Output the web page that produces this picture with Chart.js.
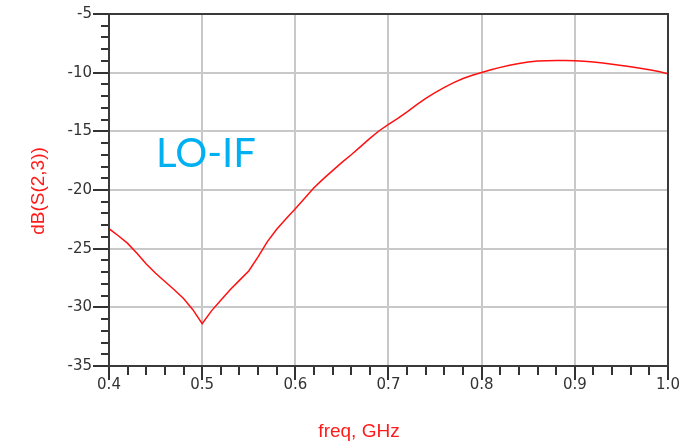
<!DOCTYPE html>
<html>
<head>
<meta charset="utf-8">
<script src="https://cdn.jsdelivr.net/npm/chart.js@4.4.1/dist/chart.umd.min.js"></script>
<style>
  body { margin: 0; background: #fff; }
  #wrap { width: 681px; height: 447px; position: relative; }
</style>
</head>
<body>
<div id="wrap"><canvas id="myChart"></canvas></div>
<script>
// freq in GHz, dB(S(2,3))
var freq = [0.40, 0.41, 0.42, 0.43, 0.44, 0.45, 0.46, 0.47, 0.48, 0.49,
            0.50, 0.51, 0.52, 0.53, 0.54, 0.55, 0.56, 0.57, 0.58, 0.59,
            0.60, 0.61, 0.62, 0.63, 0.64, 0.65, 0.66, 0.67, 0.68, 0.69,
            0.70, 0.71, 0.72, 0.73, 0.74, 0.75, 0.76, 0.77, 0.78, 0.79,
            0.80, 0.81, 0.82, 0.83, 0.84, 0.85, 0.86, 0.87, 0.88, 0.89,
            0.90, 0.91, 0.92, 0.93, 0.94, 0.95, 0.96, 0.97, 0.98, 0.99, 1.00];
var s23 = [-23.3, -23.9, -24.55, -25.4, -26.3, -27.1, -27.8, -28.5, -29.25, -30.2,
           -31.4, -30.3, -29.4, -28.5, -27.7, -26.9, -25.7, -24.4, -23.35, -22.45,
           -21.6, -20.7, -19.8, -19.05, -18.35, -17.65, -17.0, -16.3, -15.6, -14.95,
           -14.4, -13.9, -13.35, -12.75, -12.2, -11.7, -11.25, -10.85, -10.5, -10.22,
           -9.98, -9.75, -9.55, -9.37, -9.22, -9.1, -9.0, -8.98, -8.96, -8.96,
           -8.98, -9.03, -9.1, -9.18, -9.28, -9.38, -9.5, -9.62, -9.75, -9.9, -10.1];
var xTicks = [0.4, 0.5, 0.6, 0.7, 0.8, 0.9, 1.0];
var yTicks = [-35, -30, -25, -20, -15, -10, -5];

var points = freq.map(function(f, i) { return { x: f, y: s23[i] }; });

function isMajorX(v) { return Math.abs(v * 10 - Math.round(v * 10)) < 1e-6; }
function isMajorY(v) { return Math.abs(v % 5) < 1e-6; }

var tickFont = { family: '"DejaVu Sans", sans-serif', size: 15 };

// minor/major tick marks, frame, axis titles and the note
var decor = {
    id: 'decor',
    afterDraw: function(chart) {
        var c = chart.ctx, a = chart.chartArea;
        var xs = chart.scales.x, ys = chart.scales.y;
        c.save();
        c.strokeStyle = '#333';
        c.lineWidth = 2;
        xs.ticks.forEach(function(t) {
            var px = Math.round(xs.getPixelForValue(t.value));
            c.beginPath();
            c.moveTo(px, a.bottom);
            c.lineTo(px, a.bottom + (isMajorX(t.value) ? 14 : 9));
            c.stroke();
        });
        ys.ticks.forEach(function(t) {
            var py = Math.round(ys.getPixelForValue(t.value));
            c.beginPath();
            c.moveTo(a.left - (isMajorY(t.value) ? 16 : 8), py);
            c.lineTo(a.left + 1, py);
            c.stroke();
        });
        c.strokeStyle = '#3a3a3a';
        c.strokeRect(a.left, a.top, a.right - a.left, a.bottom - a.top);

        c.fillStyle = '#ff1a1a';
        c.font = '19px Arial, "Liberation Sans", sans-serif';
        c.textAlign = 'center';
        c.textBaseline = 'alphabetic';
        c.fillText('freq, GHz', 359, 437);

        c.translate(39, 191);
        c.rotate(-Math.PI / 2);
        c.textBaseline = 'middle';
        c.fillText('dB(S(2,3))', 0, 0);
        c.setTransform(1, 0, 0, 1, 0, 0);

        c.fillStyle = '#00b0f0';
        c.font = '40px Lato, "Open Sans", sans-serif';
        c.textAlign = 'left';
        c.textBaseline = 'alphabetic';
        c.fillText('LO-IF', 156, 167);
        c.restore();
    }
};

var ctx = document.getElementById('myChart').getContext('2d');
var chart = new Chart(ctx, {
    type: 'line',
    data: {
        datasets: [{
            label: 'dB(S(2,3))',
            data: points,
            borderColor: '#ff1010',
            borderWidth: 1.5,
            pointRadius: 0,
            fill: false,
            tension: 0
        }]
    },
    options: {
        responsive: true,
        maintainAspectRatio: false,
        animation: false,
        devicePixelRatio: 1,
        layout: { padding: { left: 0, right: 13, top: 14, bottom: 0 } },
        plugins: { legend: { display: false }, tooltip: { enabled: false } },
        scales: {
            x: {
                type: 'linear',
                min: 0.4,
                max: 1.0,
                afterFit: function(s) {
                    s.height = 81;
                    s.paddingLeft = 0;
                    s.paddingRight = 0;
                },
                ticks: {
                    stepSize: 0.02,
                    autoSkip: false,
                    maxRotation: 0,
                    padding: 10,
                    color: '#333',
                    font: tickFont,
                    callback: function(v) {
                        var hit = xTicks.find(function(t) { return Math.abs(t - v) < 1e-6; });
                        return hit === undefined ? '' : hit.toFixed(1);
                    }
                },
                grid: {
                    drawTicks: false,
                    lineWidth: 2,
                    color: function(c) { return c.tick && isMajorX(c.tick.value) ? '#c8c8c8' : 'rgba(0,0,0,0)'; }
                },
                border: { display: false }
            },
            y: {
                min: -35,
                max: -5,
                afterFit: function(s) {
                    s.width = 109;
                    s.paddingTop = 0;
                    s.paddingBottom = 0;
                },
                ticks: {
                    stepSize: 1,
                    autoSkip: false,
                    padding: 17,
                    color: '#333',
                    font: tickFont,
                    callback: function(v) {
                        return yTicks.indexOf(v) >= 0 ? String(v) : '';
                    }
                },
                grid: {
                    drawTicks: false,
                    lineWidth: 2,
                    color: function(c) { return c.tick && isMajorY(c.tick.value) ? '#c8c8c8' : 'rgba(0,0,0,0)'; }
                },
                border: { display: false }
            }
        }
    },
    plugins: [decor]
});
</script>
</body>
</html>
